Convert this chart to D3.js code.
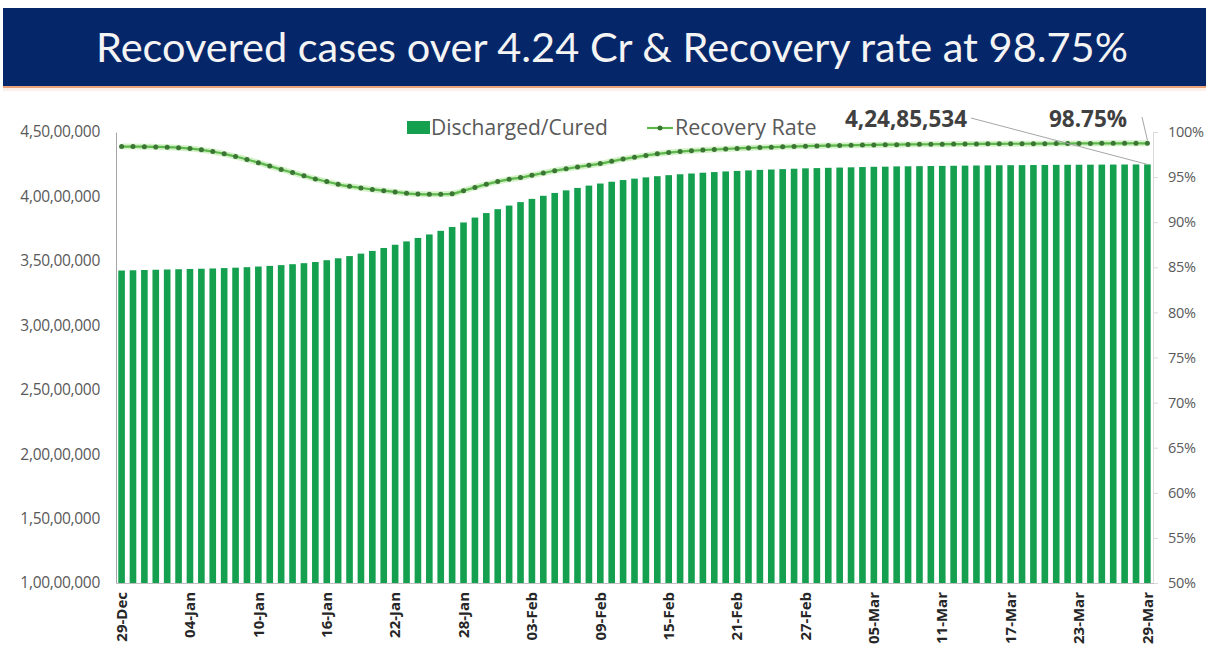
<!DOCTYPE html>
<html>
<head>
<meta charset="utf-8">
<script src="https://cdn.jsdelivr.net/npm/d3@7"></script>
<style>
  body { margin: 0; background: #fff; }
  svg { display: block; }
  .lbl { font-family: 'Open Sans', sans-serif; fill: #595959; }
</style>
</head>
<body>
<svg id="chart"></svg>
<script>
// discharged / cured, daily, 29-Dec to 29-Mar
const discharged = [
  34250000, 34270000, 34290000, 34310000, 34330000, 34350000,
  34370000, 34390000, 34410000, 34440000, 34470000, 34510000,
  34560000, 34610000, 34670000, 34740000, 34820000, 34910000,
  35050000, 35200000, 35370000, 35560000, 35770000, 36000000,
  36250000, 36510000, 36780000, 37050000, 37330000, 37630000,
  37980000, 38360000, 38710000, 39010000, 39290000, 39560000,
  39810000, 40050000, 40270000, 40470000, 40660000, 40840000,
  41000000, 41140000, 41270000, 41380000, 41480000, 41570000,
  41650000, 41720000, 41780000, 41840000, 41890000, 41940000,
  41980000, 42020000, 42060000, 42090000, 42120000, 42150000,
  42180000, 42200000, 42220000, 42240000, 42260000, 42280000,
  42300000, 42310000, 42330000, 42340000, 42350000, 42360000,
  42370000, 42380000, 42390000, 42400000, 42410000, 42420000,
  42425000, 42430000, 42437000, 42443000, 42450000, 42455000,
  42460000, 42465000, 42470000, 42474000, 42478000, 42482000, 42485534
]
// recovery rate %
const recoveryRate = [
  98.38, 98.38, 98.37, 98.35, 98.32, 98.26, 98.16,
  98.02, 97.84, 97.58, 97.28, 96.95, 96.60,
  96.22, 95.85, 95.50, 95.15, 94.80, 94.50,
  94.20, 93.98, 93.80, 93.63, 93.50, 93.35,
  93.20, 93.12, 93.09, 93.10, 93.15, 93.50,
  93.85, 94.20, 94.50, 94.75, 94.95, 95.20,
  95.45, 95.70, 95.92, 96.12, 96.30, 96.50,
  96.75, 97.00, 97.20, 97.40, 97.58, 97.72,
  97.83, 97.92, 98.00, 98.06, 98.12, 98.18,
  98.23, 98.28, 98.32, 98.36, 98.40, 98.43,
  98.46, 98.49, 98.51, 98.53, 98.55, 98.57,
  98.59, 98.60, 98.62, 98.63, 98.64, 98.65,
  98.66, 98.67, 98.68, 98.69, 98.69, 98.70,
  98.70, 98.71, 98.71, 98.72, 98.72, 98.73,
  98.73, 98.74, 98.74, 98.74, 98.75, 98.75
]
const tickLabels = ['29-Dec','04-Jan','10-Jan','16-Jan','22-Jan','28-Jan','03-Feb','09-Feb',
  '15-Feb','21-Feb','27-Feb','05-Mar','11-Mar','17-Mar','23-Mar','29-Mar']
const leftTicks = [10000000, 15000000, 20000000, 25000000, 30000000, 35000000, 40000000, 45000000]
const rightTicks = [50, 55, 60, 65, 70, 75, 80, 85, 90, 95, 100]
const titleText = 'Recovered cases over 4.24 Cr & Recovery rate at 98.75%'

const width = 1206
const height = 645
const plotLeft = 116, plotRight = 1153, plotTop = 132, plotBottom = 583
const fmt = d3.timeFormat('%d-%b')
const days = d3.timeDay.range(new Date(2021, 11, 29), new Date(2022, 2, 30))
const labelOf = d => fmt(d)

let svg = d3.select('#chart').attr('width', width).attr('height', height)
let xScale, yLeft, yRight

// Indian digit grouping 4,50,00,000
const indian = n => {
  let s = String(n)
  let last3 = s.slice(-3), rest = s.slice(0, -3)
  if (rest) rest = rest.replace(/\B(?=(\d{2})+(?!\d))/g, ',') + ','
  return rest + last3
}

const banner = () => {
  svg.append('rect').attr('x', 3).attr('y', 8).attr('width', width - 3).attr('height', 78).attr('fill', '#06266a')
  svg.append('rect').attr('x', 3).attr('y', 86).attr('width', width - 3).attr('height', 2).attr('fill', '#e9a27a')
  svg.append('rect').attr('x', 3).attr('y', 88).attr('width', width - 3).attr('height', 3).attr('fill', '#fbefe8')
  svg.append('text').attr('x', 612).attr('y', 62).attr('text-anchor', 'middle')
    .style('font-family', 'Lato, sans-serif').style('font-size', '41.5px').attr('fill', '#f4f4f4')
    .text(titleText)
}

const scales = () => {
  xScale = d3.scaleBand().domain(days.map(labelOf)).range([plotLeft, plotRight]).paddingInner(0.42).paddingOuter(0.2)
  yLeft = d3.scaleLinear().domain([10000000, 45000000]).range([plotBottom, plotTop])
  yRight = d3.scaleLinear().domain([50, 100]).range([plotBottom, plotTop])
}

const axis = () => {
  let yAxisL = d3.axisLeft(yLeft).tickValues(leftTicks).tickFormat(indian).tickSize(0).tickPadding(16)
  let gl = svg.append('g').attr('transform', `translate(${plotLeft},0)`).call(yAxisL)
  gl.select('.domain').attr('stroke', '#a6a6a6')
  gl.selectAll('text').attr('class', 'lbl').style('font-size', '15.5px').style('letter-spacing', '-0.3px')

  let yAxisR = d3.axisRight(yRight).tickValues(rightTicks).tickFormat(d => d + '%').tickSize(5).tickPadding(10)
  let gr = svg.append('g').attr('transform', `translate(${plotRight},0)`).call(yAxisR)
  gr.select('.domain').attr('stroke', '#d9d9d9')
  gr.selectAll('line').attr('stroke', '#d9d9d9')
  gr.selectAll('text').attr('class', 'lbl').style('font-size', '14.5px').style('letter-spacing', '-0.3px')

  let xAxis = d3.axisBottom(xScale).tickValues(tickLabels).tickSize(0).tickPadding(8)
  let gx = svg.append('g').attr('transform', `translate(0,${plotBottom})`).call(xAxis)
  gx.select('.domain').attr('stroke', '#bfbfbf')
  gx.selectAll('text')
    .attr('transform', 'rotate(-90)').attr('text-anchor', 'end')
    .attr('x', -9).attr('y', 0).attr('dy', '0.35em')
    .style('font-family', "'Open Sans', sans-serif").style('font-size', '15px')
    .style('font-weight', 'bold').attr('fill', '#262626')
}

const plotBars = () => {
  svg.append('g').selectAll('rect').data(discharged).enter().append('rect')
    .attr('x', (d, i) => xScale(labelOf(days[i])))
    .attr('width', xScale.bandwidth())
    .attr('y', d => yLeft(d))
    .attr('height', d => plotBottom - yLeft(d))
    .attr('fill', '#14a04f')
}

const cx = i => xScale(labelOf(days[i])) + xScale.bandwidth() / 2

const plotLine = () => {
  let line = d3.line().x((d, i) => cx(i)).y(d => yRight(d)).curve(d3.curveMonotoneX)
  svg.append('path').datum(recoveryRate).attr('d', line)
    .attr('fill', 'none').attr('stroke', '#c3ebb4').attr('stroke-width', 6).attr('opacity', 0.7)
  svg.append('path').datum(recoveryRate).attr('d', line)
    .attr('fill', 'none').attr('stroke', '#5cb84a').attr('stroke-width', 2.2)
  svg.append('g').selectAll('circle').data(recoveryRate).enter().append('circle')
    .attr('cx', (d, i) => cx(i)).attr('cy', d => yRight(d)).attr('r', 2.5).attr('fill', '#3a7534')
}

const plotLegend = () => {
  svg.append('rect').attr('x', 407).attr('y', 121).attr('width', 23).attr('height', 13).attr('fill', '#14a04f')
  svg.append('text').attr('class', 'lbl').attr('x', 431).attr('y', 135).style('font-size', '21px').text('Discharged/Cured')
  svg.append('line').attr('x1', 647).attr('x2', 673).attr('y1', 128).attr('y2', 128).attr('stroke', '#5cb84a').attr('stroke-width', 2.2)
  svg.append('circle').attr('cx', 660).attr('cy', 128).attr('r', 2.5).attr('fill', '#3a7534')
  svg.append('text').attr('class', 'lbl').attr('x', 675).attr('y', 135).style('font-size', '21.5px').text('Recovery Rate')

  // data callouts
  const n = discharged.length - 1
  svg.append('text').attr('x', 906).attr('y', 127).attr('text-anchor', 'middle')
    .style('font-family', "'Open Sans', sans-serif").style('font-size', '22.5px').style('font-weight', 'bold')
    .attr('fill', '#404040').text(indian(discharged[n]))
  svg.append('line').attr('x1', 971).attr('y1', 118).attr('x2', cx(n)).attr('y2', yLeft(discharged[n]))
    .attr('stroke', '#a6a6a6').attr('stroke-width', 1)
  svg.append('text').attr('x', 1088).attr('y', 127).attr('text-anchor', 'middle')
    .style('font-family', "'Open Sans', sans-serif").style('font-size', '22.5px').style('font-weight', 'bold')
    .attr('fill', '#404040').text(recoveryRate[n].toFixed(2) + '%')
  svg.append('line').attr('x1', 1142).attr('y1', 117).attr('x2', cx(n)).attr('y2', yRight(recoveryRate[n]) - 3)
    .attr('stroke', '#a6a6a6').attr('stroke-width', 1)
}

banner()
scales()
plotBars()
axis()
plotLine()
plotLegend()
</script>
</body>
</html>
